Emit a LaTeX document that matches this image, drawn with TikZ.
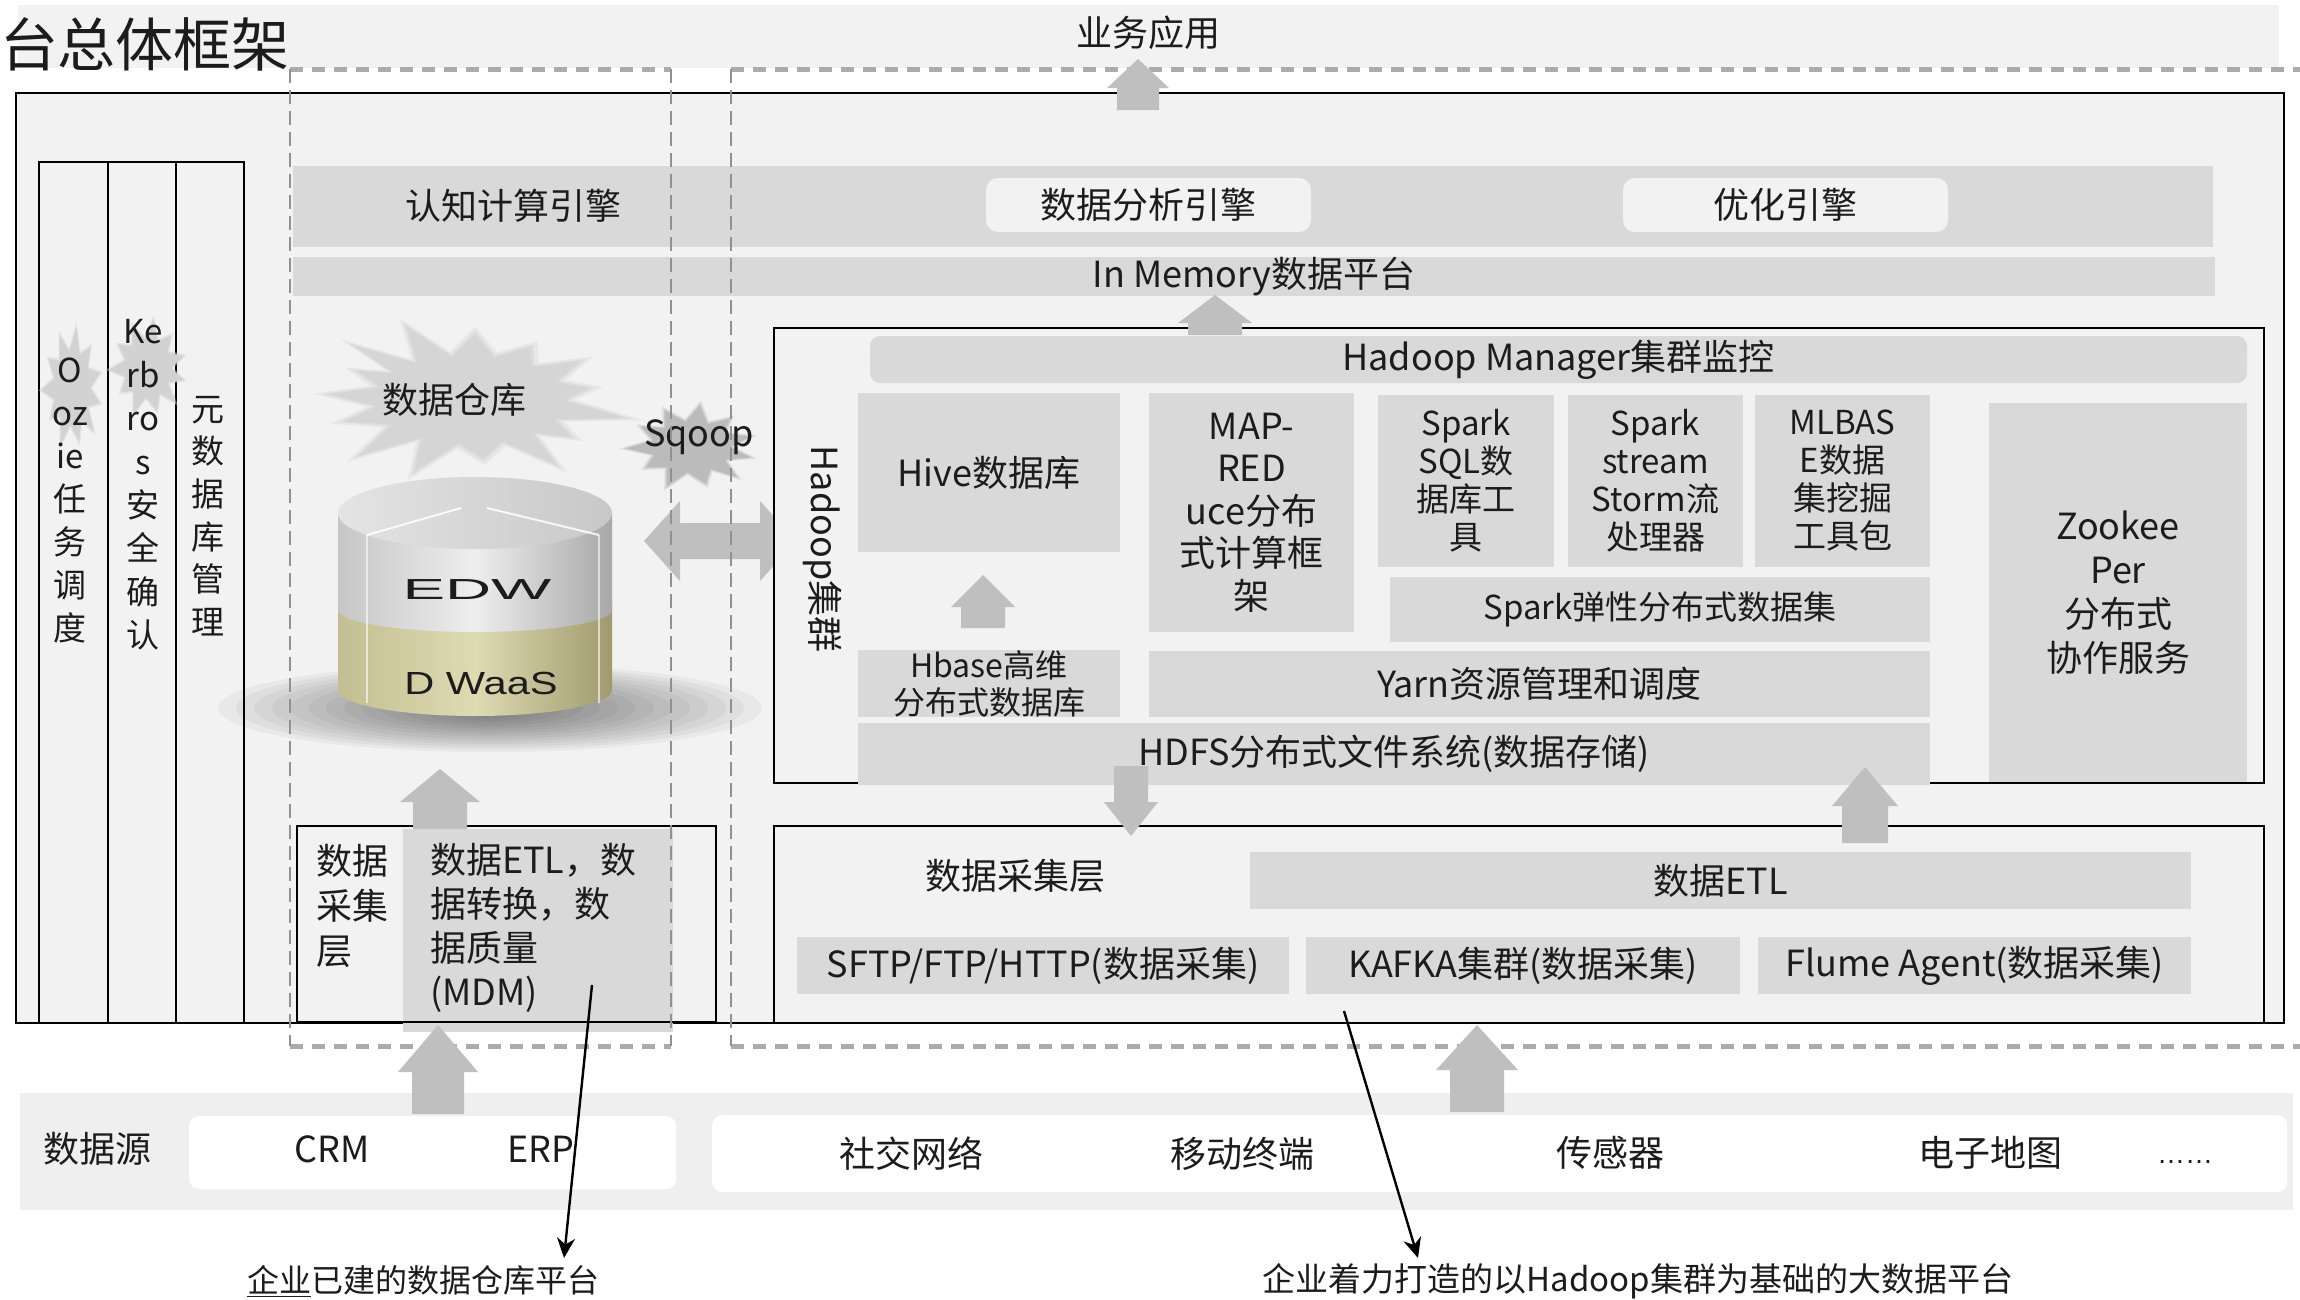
\documentclass[tikz,border=0pt]{standalone}
\usepackage{fontspec}
\setmainfont{Noto Sans CJK SC}
\newfontfamily\latinsans{Liberation Sans}
\usetikzlibrary{arrows.meta}

\definecolor{panel}{HTML}{F2F2F2}
\definecolor{bandgray}{HTML}{D9D9D9}
\definecolor{arrowgray}{HTML}{BFBFBF}
\definecolor{dashgray}{HTML}{ABABAB}
\definecolor{ink}{HTML}{1C1C1C}
\definecolor{srcband}{HTML}{EFEFEF}
\definecolor{burstlight}{HTML}{D5D5D5}
\definecolor{burstdark}{HTML}{BBBBBB}
\definecolor{burstcol}{HTML}{D2D2D2}
\definecolor{cylL}{HTML}{C6C6C6}
\definecolor{cylM}{HTML}{EEEEEE}
\definecolor{cylR}{HTML}{A8A8A8}
\definecolor{topL}{HTML}{E4E4E4}
\definecolor{topR}{HTML}{C8C8C8}
\definecolor{khaL}{HTML}{C4BE92}
\definecolor{khaM}{HTML}{DEDAB2}
\definecolor{khaR}{HTML}{A09A6E}

\tikzset{
  base/.style={inner sep=0pt, outer sep=0pt, text=ink, align=center},
  t36/.style={base, font=\fontsize{36}{43}\selectfont},
  corner/.style={anchor=north west},
  wh/.style 2 args={minimum width=#1pt, minimum height=#2pt},
  band/.style={t36, corner, fill=bandgray},
  narrow/.style={band, font=\fontsize{33}{38}\selectfont},
  frame/.style={corner, draw=black, line width=2.2pt, fill=panel, inner sep=0pt},
  pill/.style={t36, corner, fill=panel, rounded corners=12pt},
  srcbox/.style={corner, fill=white, rounded corners=10pt, inner sep=0pt},
  hdash/.style={dashgray, line width=5pt, dash pattern=on 13pt off 9pt},
  vdash/.style={dashgray!85!black, line width=1.6pt, dash pattern=on 14pt off 7pt},
  pointer/.style={black, line width=2.4pt, -{Stealth[length=20pt,width=18pt]}},
  blockarrow/.style={fill=arrowgray},
  highlight/.style={white, line width=2pt, opacity=0.85},
}

% spiky cloud: centre x, centre y, x radius, y radius, fill style, list of angle/radius
\newcommand\starburst[6]{%
  \fill[#5] ({#1+#3*0.6},#2)
    \foreach \ang/\rad in #6 { -- ({#1+#3*\rad*cos(\ang)},{#2+#4*\rad*sin(\ang)}) } -- cycle;}
% the same cloud with a faint soft rim around it
\newcommand\softburst[6]{%
  \starburst{#1}{#2}{1.12*#3}{1.12*#4}{#5, opacity=0.35}{#6}%
  \starburst{#1}{#2}{1.05*#3}{1.05*#4}{#5, opacity=0.6}{#6}%
  \starburst{#1}{#2}{#3}{#4}{#5}{#6}}
\def\spikesbig{14/1.02, 26/0.6, 38/0.82, 48/0.6, 58/1.05, 70/0.6, 84/0.8, 97/0.6, 110/1.04, 121/0.6, 133/1.04, 146/0.6, 160/0.85, 172/0.6, 185/0.9, 197/0.6, 209/0.82, 217/0.6, 225/1.05, 236/0.6, 248/1.08, 259/0.6, 272/0.9, 285/0.6, 298/0.82, 311/0.6, 323/0.88, 336/0.6, 348/0.78}
\def\spikessmall{15/0.95, 30/0.6, 45/1.0, 60/0.6, 75/0.9, 95/0.6, 112/1.0, 128/0.6, 145/0.85, 162/0.6, 178/1.0, 195/0.6, 212/0.9, 228/0.6, 245/0.95, 262/0.6, 278/1.0, 295/0.6, 312/0.9, 328/0.6, 345/0.95}

% vertical block arrow: centre x, tip y, neck y, tail y, head half width, shaft half width
\newcommand\blockarrow[6]{%
  \fill[blockarrow] (#1,#2) -- ({#1+#5},#3) -- ({#1+#6},#3) -- ({#1+#6},#4)
    -- ({#1-#6},#4) -- ({#1-#6},#3) -- ({#1-#5},#3) -- cycle;}

\begin{document}
\begin{tikzpicture}[x=1pt,y=-1pt]
\useasboundingbox (0,0) rectangle (2300,1299);
\fill[white] (0,0) rectangle (2300,1299);

% ---------- business application strip ----------
\node[corner, fill=panel, wh={2261}{63}] (topband) at (18,5) {};
\node[t36] (bizapp) at (1148,33) {业务应用};
\node[base, font=\fontsize{58}{64}\selectfont, anchor=west] (title) at (0,44) {台总体框架};

% ---------- platform frame and cross-cutting columns ----------
\node[frame, wh={2268}{930}] (outer) at (15,92) {};
\node[frame, wh={69}{861}] (col1) at (38,161) {};
\node[frame, wh={68}{861}] (col2) at (107,161) {};
\node[frame, wh={68}{861}] (col3) at (175,161) {};
\softburst{72}{388}{30}{60}{burstcol}{\spikessmall}
\softburst{148}{368}{38}{48}{burstcol}{\spikessmall}
\node[base, font=\fontsize{33}{43}\selectfont] (oozie) at (70,501) {O\\oz\\ie\\任\\务\\调\\度};
\node[base, font=\fontsize{33}{43.4}\selectfont] (kerberos) at (143,485) {Ke\\rb\\ro\\s\\安\\全\\确\\认};
\node[base, font=\fontsize{33}{42.6}\selectfont] (meta) at (208,516) {元\\数\\据\\库\\管\\理};

% ---------- engines and in-memory layer ----------
\node[band, wh={1920}{81}] (cogband) at (293,166) {};
\node[t36] (cogtxt) at (513,206) {认知计算引擎};
\node[pill, wh={325}{54}] (analysis) at (986,178) {数据分析引擎};
\node[pill, wh={325}{54}] (optim) at (1623,178) {优化引擎};
\node[band, wh={1922}{39}] (inmem) at (293,257) {In Memory数据平台};

% ---------- enterprise data warehouse ----------
\softburst{470}{400}{156}{73}{burstlight}{\spikesbig}
\node[t36] (dwlbl) at (454,400) {数据仓库};
\softburst{691}{447}{64}{42}{burstdark}{\spikessmall}
\node[t36] (sqoop) at (699,437) {Sqoop};
\fill[blockarrow] (644,541) -- (680,501) -- (680,523) -- (760,523) -- (760,501) -- (796,541)
  -- (760,581) -- (760,559) -- (680,559) -- (680,581) -- cycle;

\foreach \k [evaluate=\k as \rx using 272-18*\k, evaluate=\k as \ry using 44-2.6*\k] in {0,...,13}
  \fill[black, opacity=0.04] (490,708) ellipse [x radius=\rx pt, y radius=\ry pt];
\shade[left color=khaL, right color=khaR, middle color=khaM]
  (338,600) -- (338,690) arc[start angle=180, end angle=360, x radius=137pt, y radius=26pt] -- (612,600) -- cycle;
\shade[left color=cylL, right color=cylR, middle color=cylM]
  (338,513) -- (338,610) arc[start angle=180, end angle=360, x radius=137pt, y radius=22pt] -- (612,513) -- cycle;
\shade[left color=topL, right color=topR] (475,513) ellipse [x radius=137pt, y radius=36pt];
\draw[highlight] (367,535) -- (461,508);
\draw[highlight] (487,508) -- (599,535);
\draw[highlight, opacity=0.6] (367,535) -- (367,703);
\draw[highlight, opacity=0.6] (599,535) -- (599,703);
\node[base, font=\latinsans\fontsize{29}{29}\selectfont, xscale=2.2] (edw) at (477,590) {EDW};
\node[base, font=\latinsans\fontsize{32}{32}\selectfont, xscale=1.3] (dwaas) at (481,683) {D WaaS};

% ---------- Hadoop cluster ----------
\node[frame, wh={1490}{455}] (hadoop) at (773,327) {};
\node[t36, rotate=-90] (hadooplbl) at (823,549) {Hadoop集群};
\node[band, rounded corners=10pt, wh={1377}{47}] (hmgr) at (870,336) {Hadoop Manager集群监控};
\node[band, wh={262}{159}] (hive) at (858,393) {Hive数据库};
\node[band, font=\fontsize{32}{37}\selectfont, wh={262}{67}] (hbase) at (858,650) {Hbase高维\\分布式数据库};
\node[band, font=\fontsize{36}{42.5}\selectfont, wh={205}{239}] (mapred) at (1149,393) {MAP-\\RED\\uce分布\\式计算框\\架};
\node[narrow, wh={176}{172}] (sparksql) at (1378,395) {Spark\\SQL数\\据库工\\具};
\node[narrow, wh={175}{172}] (sstream) at (1568,395) {Spark\\stream\\Storm流\\处理器};
\node[narrow, wh={175}{172}] (mlbase) at (1755,395) {MLBAS\\E数据\\集挖掘\\工具包};
\node[narrow, wh={540}{65}] (rdd) at (1390,577) {Spark弹性分布式数据集};
\node[band, wh={781}{66}] (yarn) at (1149,651) {Yarn资源管理和调度};
\node[band, wh={1072}{62}] (hdfs) at (858,723) {HDFS分布式文件系统(数据存储)};
\node[band, font=\fontsize{36}{44}\selectfont, wh={258}{379}] (zk) at (1989,403) {Zookee\\Per\\分布式\\协作服务};

% ---------- acquisition layers ----------
\node[corner, fill=bandgray, wh={270}{203}] (lgray) at (403,829) {};
\node[frame, fill=none, wh={419}{196}] (lcollect) at (296,825) {};
\node[base, font=\fontsize{36}{45}\selectfont, align=left, anchor=west] (lcollectlbl) at (316,906) {数据\\采集\\层};
\node[base, font=\fontsize{36}{44}\selectfont, align=left, anchor=west] (letl) at (430,928) {数据ETL，数\\据转换，数\\据质量\\(MDM)};

\node[frame, wh={1490}{197}] (rcollect) at (773,825) {};
\node[t36] (rcollectlbl) at (1015,876) {数据采集层};
\node[band, wh={941}{57}] (etl) at (1250,852) {数据ETL};
\node[band, wh={492}{57}] (sftp) at (797,937) {SFTP/FTP/HTTP(数据采集)};
\node[band, wh={434}{57}] (kafka) at (1306,937) {KAFKA集群(数据采集)};
\node[band, wh={433}{57}] (flume) at (1758,937) {Flume Agent(数据采集)};

% ---------- data sources ----------
\node[corner, fill=srcband, wh={2273}{117}] (srcband) at (20,1093) {};
\node[srcbox, wh={487}{73}] (srcA) at (189,1116) {};
\node[srcbox, wh={1575}{77}] (srcB) at (712,1115) {};
\node[t36] (srclbl) at (97,1149) {数据源};
\node[t36] (crm) at (332,1149) {CRM};
\node[t36] (erp) at (541,1149) {ERP};
\node[t36] (social) at (911,1154) {社交网络};
\node[t36] (mobile) at (1242,1154) {移动终端};
\node[t36] (sensor) at (1610,1153) {传感器};
\node[t36] (emap) at (1990,1153) {电子地图};
\node[base, font=\latinsans\fontsize{28}{28}\selectfont] (more) at (2185,1162) {……};

% ---------- dashed groupings ----------
\draw[hdash] (290,69) -- (671,69);
\draw[hdash] (731,69) -- (2300,69);
\draw[hdash] (290,1046) -- (671,1046);
\draw[hdash] (731,1046) -- (2300,1046);
\draw[vdash] (290,69) -- (290,1046);
\draw[vdash] (671,69) -- (671,1046);
\draw[vdash] (731,69) -- (731,1046);

% ---------- flow arrows ----------
\blockarrow{1138}{59}{88}{110}{31}{21}
\blockarrow{1215}{295}{323}{335}{37}{27}
\blockarrow{983}{575}{607}{628}{32}{22}
\blockarrow{1131}{836}{802}{766}{27}{17}
\blockarrow{1865}{767}{806}{843}{33}{23}
\blockarrow{1477}{1025}{1070}{1112}{41}{27}
\blockarrow{438}{1025}{1072}{1114}{40}{26}
\blockarrow{440}{769}{802}{829}{40}{27}

% ---------- annotations ----------
\node[base, font=\fontsize{32}{38}\selectfont] (lblA) at (423,1281) {\underline{企业}已建的数据仓库平台};
\node[base, font=\fontsize{33}{40}\selectfont] (lblB) at (1638,1281) {企业着力打造的以Hadoop集群为基础的大数据平台};
\coordinate (mdmtail) at (592,985);
\coordinate (mdmhead) at (564,1258);
\coordinate (bdtail) at (1344,1011);
\coordinate (bdhead) at (1418,1258);
\draw[pointer] (mdmtail) -- (mdmhead);
\draw[pointer] (bdtail) -- (bdhead);
\end{tikzpicture}
\end{document}
